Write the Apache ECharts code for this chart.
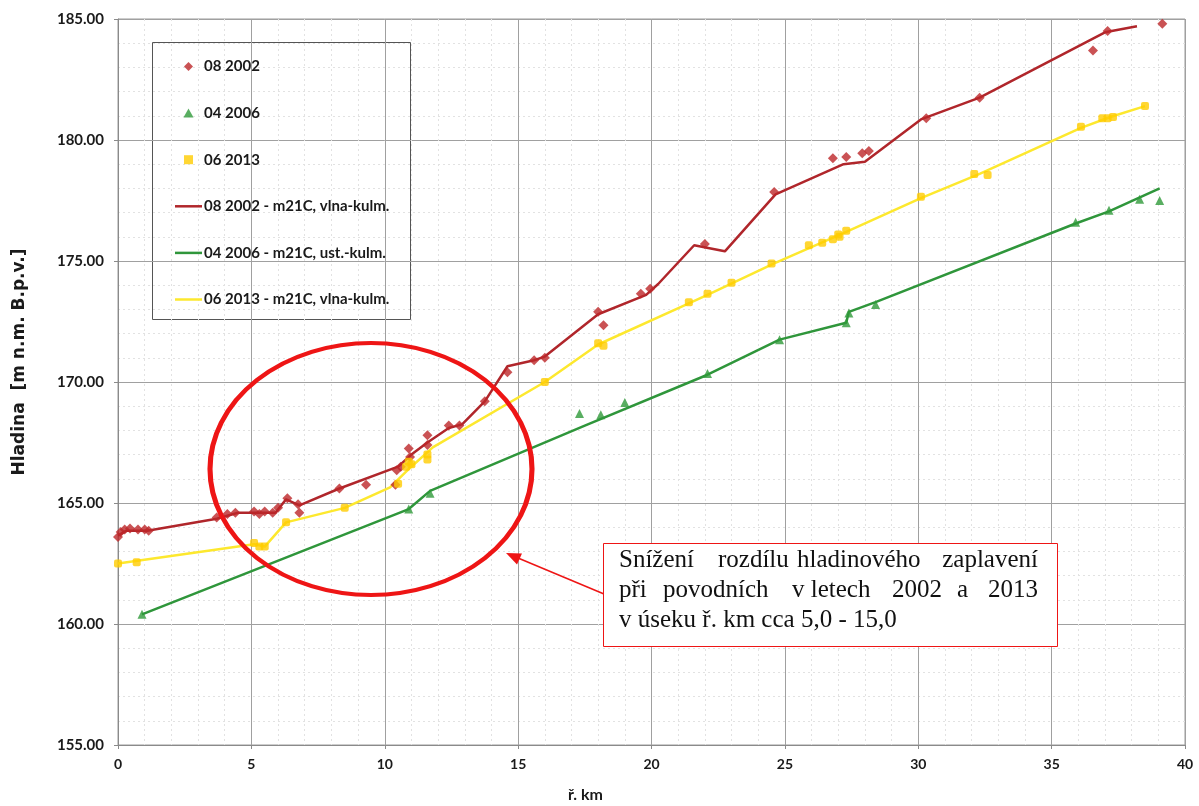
<!DOCTYPE html>
<html>
<head>
<meta charset="utf-8">
<style>
html, body { margin: 0; padding: 0; background: #fff; }
#chartElem { width: 1199px; height: 806px; }
</style>
</head>
<body>
<div id="chartElem"></div>

<script src="https://cdn.jsdelivr.net/npm/echarts@6/dist/echarts.min.js"></script>

<script>

// measured points [km, level]
let points2002 = [
	[0, 163.6], [0.1, 163.8], [0.25, 163.9], [0.45, 163.95], [0.75, 163.9], [1.0, 163.9], [1.15, 163.85],
	[3.7, 164.4], [4.1, 164.55], [4.4, 164.6], [5.1, 164.65], [5.3, 164.55], [5.5, 164.65], [5.8, 164.6],
	[6.0, 164.8], [6.35, 165.2], [6.75, 164.95], [6.8, 164.6], [8.3, 165.6], [9.3, 165.75],
	[10.45, 166.35], [10.4, 165.75], [10.6, 166.5], [10.9, 167.25], [10.95, 166.9], [11.6, 167.8], [11.6, 167.4],
	[12.4, 168.2], [12.8, 168.2], [13.75, 169.2], [14.6, 170.4], [15.6, 170.9], [16.0, 171.0],
	[18.0, 172.9], [18.2, 172.35], [19.6, 173.65], [19.95, 173.85], [22.0, 175.7], [24.6, 177.85],
	[26.8, 179.25], [27.3, 179.3], [27.9, 179.45], [28.15, 179.55], [30.3, 180.9], [32.3, 181.75],
	[36.55, 183.7], [37.1, 184.5], [39.15, 184.8]
];

let points2006 = [
	[0.9, 160.4], [10.9, 164.75], [11.7, 165.4], [17.3, 168.7], [18.1, 168.65], [19.0, 169.15],
	[22.1, 170.35], [24.8, 171.75], [27.3, 172.45], [27.4, 172.85], [28.4, 173.2],
	[35.9, 176.6], [37.15, 177.1], [38.3, 177.55], [39.05, 177.5]
];

let points2013 = [
	[0, 162.5], [0.7, 162.55], [5.1, 163.35], [5.3, 163.2], [5.5, 163.2], [6.3, 164.2], [8.5, 164.8],
	[10.5, 165.8], [10.8, 166.5], [10.9, 166.7], [11.0, 166.6], [11.6, 167.0], [11.6, 166.8],
	[16.0, 170.0], [18.0, 171.6], [18.2, 171.5], [21.4, 173.3], [22.1, 173.65], [23.0, 174.1],
	[24.5, 174.9], [25.9, 175.65], [26.4, 175.75], [26.8, 175.9], [27.0, 176.1], [27.05, 176.0],
	[27.3, 176.25], [30.1, 177.65], [32.1, 178.6], [32.6, 178.55], [36.1, 180.55], [36.9, 180.9],
	[37.1, 180.9], [37.3, 180.95], [38.5, 181.4]
];

// model m21C
let model2002 = [
	[0, 163.65], [0.3, 163.85], [1.1, 163.85], [3.7, 164.35], [4.5, 164.6], [5.9, 164.6], [6.3, 165.15],
	[6.8, 164.9], [8.3, 165.6], [10.5, 166.5], [11.0, 167.0], [11.6, 167.5], [12.4, 168.1], [12.9, 168.25],
	[13.75, 169.2], [14.6, 170.65], [15.6, 170.9], [16.0, 171.05], [18.0, 172.8], [19.8, 173.6],
	[20.25, 174.05], [21.6, 175.65], [22.75, 175.4], [24.65, 177.75], [27.2, 179.0], [28.0, 179.1],
	[30.1, 180.85], [32.3, 181.75], [37.0, 184.45], [38.2, 184.7]
];

let model2006 = [
	[0.9, 160.4], [10.9, 164.75], [11.7, 165.5], [17.5, 168.2], [22.1, 170.3], [24.8, 171.75],
	[27.3, 172.45], [27.4, 172.9], [28.4, 173.3], [35.9, 176.55], [37.15, 177.05], [39.05, 178.0]
];

let model2013 = [
	[0, 162.5], [5.1, 163.3], [5.5, 163.2], [6.3, 164.2], [8.5, 164.8], [10.2, 165.65], [10.8, 166.3],
	[11.8, 167.3], [16.0, 170.0], [18.0, 171.55], [21.4, 173.25], [22.2, 173.65], [24.6, 174.9],
	[27.3, 176.2], [30.1, 177.6], [32.3, 178.6], [36.1, 180.5], [37.2, 180.95], [38.5, 181.4]
];

let seriesNames = [
	"08 2002", "04 2006", "06 2013",
	"08 2002 - m21C, vlna-kulm.", "04 2006 - m21C, ust.-kulm.", "06 2013 - m21C, vlna-kulm."
];

let noteLines = [
	["Snížení", "rozdílu", "hladinového", "zaplavení"],
	["při", "povodních", "v letech", "2002", "a", "2013"],
	["v úseku ř. km cca 5,0 - 15,0"]
];

let red = "#b0262b", green = "#2f963b", yellow = "#fde82e";

// legend icons (kept to aspect by the legend)
let iconDiamond = "path://M5,0 L10,5 L5,10 L0,5 Z",
	iconTriangle = "path://M5,0 L10,9 L0,9 Z",
	iconSquare = "path://M0,0 L7,0 L7,7 L0,7 Z",
	iconLine = "path://M0,0 L27,0 L27,2.5 L0,2.5 Z";

let chart = echarts.init(document.getElementById("chartElem"));

chart.setOption(buildOption());


function buildOption() {
	let labelFont = {color: "#1a1a1a", fontWeight: "bold", fontFamily: "Lato", fontSize: 15};
	let icons = [iconDiamond, iconTriangle, iconSquare, iconLine, iconLine, iconLine];
	
	return {
		animation: false,
		grid: {left: 118, right: 14, top: 19, bottom: 61, show: true, borderColor: "#9a9a9a", borderWidth: 1,
			outerBoundsMode: "none", containLabel: false},
		legend: {
			orient: "vertical",
			left: 170,
			top: 54,
			itemWidth: 27,
			itemHeight: 9,
			itemGap: 31.6,
			symbolKeepAspect: true,
			textStyle: {fontFamily: "Lato", fontWeight: "bold", fontSize: 15, color: "#1a1a1a", padding: [0, 0, 0, -3]},
			data: seriesNames.map((name, i) => ({name, icon: icons[i]}))
		},
		xAxis: {
			type: "value",
			min: 0,
			max: 40,
			interval: 5,
			name: "ř. km",
			nameLocation: "middle",
			nameGap: 42,
			nameTextStyle: {...labelFont, fontSize: 16, padding: [0, 132, 0, 0]},
			axisLine: {lineStyle: {color: "#8a8a8a"}},
			axisTick: {show: true, length: 4, lineStyle: {color: "#8a8a8a"}},
			axisLabel: {...labelFont, fontSize: 14, margin: 12},
			splitLine: {lineStyle: {color: "#a0a0a0", width: 1}},
			minorTick: {show: false, splitNumber: 5},
			minorSplitLine: {show: true, lineStyle: {color: "#e2e2e2", type: [2, 3]}}
		},
		yAxis: {
			type: "value",
			min: 155,
			max: 185,
			interval: 5,
			name: "Hladina  [m n.m. B.p.v.]",
			nameLocation: "middle",
			nameGap: 90,
			nameTextStyle: {color: "#1a1a1a", fontWeight: "bold", fontFamily: "DejaVu Sans", fontSize: 17,
				padding: [0, 0, 0, 40]},
			axisLine: {show: true, lineStyle: {color: "#8a8a8a"}},
			axisTick: {show: true, length: 4, lineStyle: {color: "#8a8a8a"}},
			axisLabel: {...labelFont, margin: 14, formatter: v => v.toFixed(2)},
			splitLine: {lineStyle: {color: "#a0a0a0", width: 1}},
			minorTick: {show: false, splitNumber: 5},
			minorSplitLine: {show: true, lineStyle: {color: "#e2e2e2", type: [2, 3]}}
		},
		series: [
			{name: seriesNames[0], type: "scatter", data: points2002, symbol: "diamond", symbolSize: 10, z: 5,
				itemStyle: {color: "#bd2729"}},
			{name: seriesNames[1], type: "scatter", data: points2006, symbol: "triangle", symbolSize: 9, z: 5,
				itemStyle: {color: "#2f9a3a"}},
			{name: seriesNames[2], type: "scatter", data: points2013, symbol: "roundRect", symbolSize: 8, z: 5,
				itemStyle: {color: "#ffcc00"}},
			{name: seriesNames[3], type: "line", data: model2002, symbol: "none", z: 3,
				lineStyle: {color: red, width: 2.5}, itemStyle: {color: red}},
			{name: seriesNames[4], type: "line", data: model2006, symbol: "none", z: 3,
				lineStyle: {color: green, width: 2.5}, itemStyle: {color: green}},
			{name: seriesNames[5], type: "line", data: model2013, symbol: "none", z: 3,
				lineStyle: {color: yellow, width: 2.5}, itemStyle: {color: yellow}}
		],
		graphic: buildGraphics()
	};
}

function buildGraphics() {
	let els = [];
	
	// legend frame
	els.push({type: "rect", left: 152, top: 42, z: 0, shape: {width: 258, height: 277},
		style: {fill: "#fff", stroke: "#555", lineWidth: 1}});
	
	// ellipse around km 5-15
	els.push({type: "circle", x: 371, y: 469, scaleX: 161 / 126, scaleY: 1, z: 50,
		shape: {cx: 0, cy: 0, r: 126},
		style: {fill: "none", stroke: "#ee1515", lineWidth: 4, strokeNoScale: true}});
	
	// arrow from note to ellipse
	els.push({type: "line", z: 50, shape: {x1: 604, y1: 594, x2: 518, y2: 558},
		style: {stroke: "#ee1515", lineWidth: 1.5}});
	els.push({type: "polygon", z: 50, shape: {points: [[506, 553], [517, 564.5], [522, 553.5]]},
		style: {fill: "#ee1515"}});
	
	// note box
	els.push({type: "rect", z: 50, shape: {x: 603.5, y: 543.5, width: 454, height: 103},
		style: {fill: "#fff", stroke: "#ee1515", lineWidth: 1}});
	
	let wordX = [
		[619, 718, 797, 933],
		[619, 663, 792, 892, 957, 987],
		[619]
	];
	let lastRight = [1038, 1038, null];
	let baseY = [573, 603, 633];
	
	noteLines.forEach((words, li) => {
		words.forEach((w, wi) => {
			let isLast = wi === words.length - 1 && lastRight[li] !== null;
			els.push({type: "text", z: 51,
				x: isLast ? lastRight[li] : wordX[li][wi],
				y: baseY[li],
				style: {text: w, fill: "#111", font: "25px 'Liberation Serif'",
					textAlign: isLast ? "right" : "left", textVerticalAlign: "bottom"}});
		});
	});
	
	return els;
}

</script>
</body>
</html>
